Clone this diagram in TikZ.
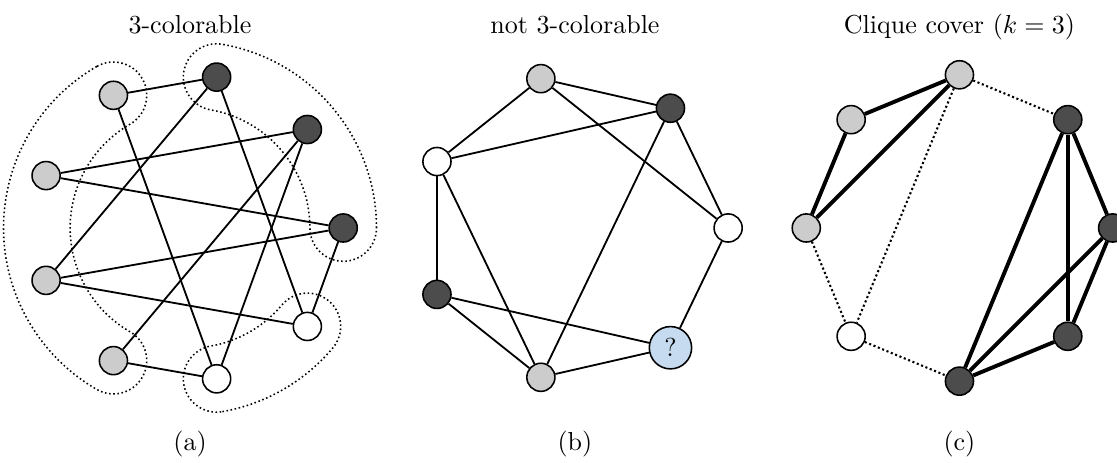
\documentclass[tikz,border=0pt]{standalone}
\usepackage{amsmath}
\usepackage{xcolor}
\usepackage{tikz}
\usetikzlibrary{calc}
\definecolor{askblue}{RGB}{198,219,239}
\colorlet{classlight}{gray!40}
\colorlet{classdark}{black!70}
\tikzset{
	vertex/.style={draw, circle, inner sep=0pt, minimum size=3.8mm, line width=0.6pt},
	lightv/.style={vertex, fill=classlight},
	darkv/.style={vertex, fill=classdark},
	whitev/.style={vertex, fill=white},
	plainedge/.style={line width=0.7pt},
	cliqueedge/.style={line width=1.5pt},
	crossedge/.style={densely dotted, line width=0.8pt},
	classblob/.style={densely dotted, line width=0.6pt}
}

\begin{document}
\begin{tikzpicture}[
	title/.style={anchor=base, inner sep=0pt},
	askv/.style={vertex, fill=askblue, inner sep=2.8pt, font=\normalsize},
	]
	\useasboundingbox (0,0) rectangle (15.095,6.257);
	
	%% -- Panel centres
	\coordinate (ca) at (2.568,3.176);
	\coordinate (cb) at (7.770,3.176);
	\coordinate (cc) at (12.966,3.176);
	
	%% -- Titles and captions
	\node[title] (ta) at (2.568,5.807) {3-colorable};
	\node[title] (tb) at (7.770,5.807) {not 3-colorable};
	\node[title] (tc) at (12.966,5.807) {Clique cover ($k=3$)};
	\node[title] (la) at (2.568,0.17) {(a)};
	\node[title] (lb) at (7.770,0.17) {(b)};
	\node[title] (lc) at (12.966,0.17) {(c)};
	
	%% -- (a) colour classes (dotted outlines)
	\draw[classblob] ($(ca)+(120:2.52)$)
	arc[start angle=120, end angle=240, radius=2.52]
	arc[start angle=240, end angle=420, radius=0.45]
	arc[start angle=240, end angle=120, radius=1.62]
	arc[start angle=300, end angle=480, radius=0.45] -- cycle;
	
	\draw[classblob] ($(ca)+(0:2.52)$)
	arc[start angle=0, end angle=80, radius=2.52]
	arc[start angle=80, end angle=260, radius=0.45]
	arc[start angle=80, end angle=0, radius=1.62]
	arc[start angle=180, end angle=360, radius=0.45] -- cycle;
	
	\draw[classblob] ($(ca)+(280:2.52)$)
	arc[start angle=280, end angle=320, radius=2.52]
	arc[start angle=320, end angle=500, radius=0.45]
	arc[start angle=320, end angle=280, radius=1.62]
	arc[start angle=460, end angle=640, radius=0.45] -- cycle;
	
	%% -- (a) vertices
	\node[darkv] (a0) at ($(ca)+(0:2.07)$) {};
	\node[darkv] (a1) at ($(ca)+(40:2.07)$) {};
	\node[darkv] (a2) at ($(ca)+(80:2.07)$) {};
	\node[lightv] (a3) at ($(ca)+(120:2.07)$) {};
	\node[lightv] (a4) at ($(ca)+(160:2.07)$) {};
	\node[lightv] (a5) at ($(ca)+(200:2.07)$) {};
	\node[lightv] (a6) at ($(ca)+(240:2.07)$) {};
	\node[whitev] (a7) at ($(ca)+(280:2.07)$) {};
	\node[whitev] (a8) at ($(ca)+(320:2.07)$) {};
	
	%% -- (a) edges
	\draw[plainedge] (a3) -- (a2);
	\draw[plainedge] (a3) -- (a7);
	\draw[plainedge] (a2) -- (a5);
	\draw[plainedge] (a2) -- (a8);
	\draw[plainedge] (a1) -- (a4);
	\draw[plainedge] (a1) -- (a6);
	\draw[plainedge] (a1) -- (a7);
	\draw[plainedge] (a4) -- (a0);
	\draw[plainedge] (a0) -- (a5);
	\draw[plainedge] (a0) -- (a8);
	\draw[plainedge] (a5) -- (a8);
	\draw[plainedge] (a6) -- (a7);
	
	%% -- (b) vertices
	\node[whitev] (b0) at ($(cb)+(0:2.07)$) {};
	\node[darkv] (b1) at ($(cb)+(51.43:2.07)$) {};
	\node[lightv] (b2) at ($(cb)+(102.86:2.07)$) {};
	\node[whitev] (b3) at ($(cb)+(154.29:2.07)$) {};
	\node[darkv] (b4) at ($(cb)+(205.71:2.07)$) {};
	\node[lightv] (b5) at ($(cb)+(257.14:2.07)$) {};
	\node[askv] (b6) at ($(cb)+(308.57:2.07)$) {?};
	
	%% -- (b) edges
	\draw[plainedge] (b2) -- (b1);
	\draw[plainedge] (b2) -- (b3);
	\draw[plainedge] (b2) -- (b0);
	\draw[plainedge] (b1) -- (b3);
	\draw[plainedge] (b1) -- (b0);
	\draw[plainedge] (b1) -- (b5);
	\draw[plainedge] (b0) -- (b6);
	\draw[plainedge] (b6) -- (b4);
	\draw[plainedge] (b6) -- (b5);
	\draw[plainedge] (b5) -- (b4);
	\draw[plainedge] (b5) -- (b3);
	\draw[plainedge] (b4) -- (b3);
	
	%% -- (c) vertices
	\node[darkv] (c0) at ($(cc)+(0:2.07)$) {};
	\node[darkv] (c1) at ($(cc)+(45:2.07)$) {};
	\node[lightv] (c2) at ($(cc)+(90:2.07)$) {};
	\node[lightv] (c3) at ($(cc)+(135:2.07)$) {};
	\node[lightv] (c4) at ($(cc)+(180:2.07)$) {};
	\node[whitev] (c5) at ($(cc)+(225:2.07)$) {};
	\node[darkv] (c6) at ($(cc)+(270:2.07)$) {};
	\node[darkv] (c7) at ($(cc)+(315:2.07)$) {};
	
	%% -- (c) clique edges (thick)
	\draw[cliqueedge] (c2) -- (c3);
	\draw[cliqueedge] (c2) -- (c4);
	\draw[cliqueedge] (c3) -- (c4);
	\draw[cliqueedge] (c1) -- (c0);
	\draw[cliqueedge] (c1) -- (c7);
	\draw[cliqueedge] (c1) -- (c6);
	\draw[cliqueedge] (c0) -- (c7);
	\draw[cliqueedge] (c0) -- (c6);
	\draw[cliqueedge] (c7) -- (c6);
	
	%% -- (c) edges between cliques (dotted)
	\draw[crossedge] (c2) -- (c1);
	\draw[crossedge] (c2) -- (c5);
	\draw[crossedge] (c4) -- (c5);
	\draw[crossedge] (c5) -- (c6);
	
\end{tikzpicture}
\end{document}
